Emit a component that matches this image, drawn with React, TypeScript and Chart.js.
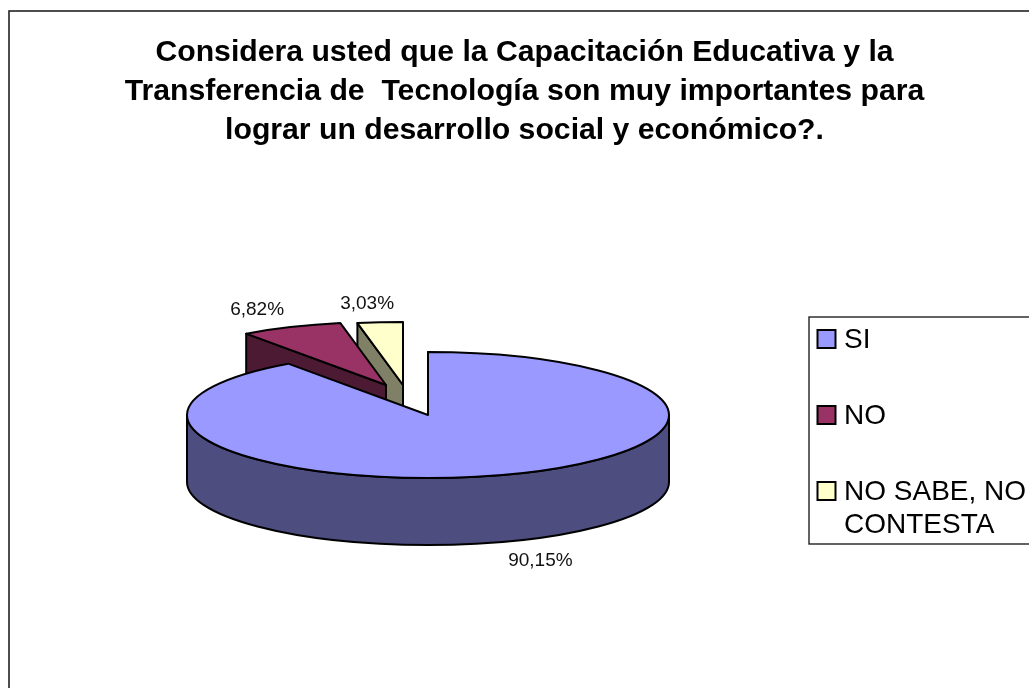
import React, { useEffect, useRef } from "react";
import { Chart, registerables } from "chart.js";

Chart.register(...registerables);

// Survey answers, in percent
const answerLabels = ["SI", "NO", "NO SABE, NO CONTESTA"];
const answerValues = [90.15, 6.82, 3.03];
const valueLabels = ["90,15%", "6,82%", "3,03%"];

const titleLines = [
  "Considera usted que la Capacitación Educativa y la",
  "Transferencia de  Tecnología son muy importantes para",
  "lograr un desarrollo social y económico?.",
];

const topColors = ["#9999FF", "#993366", "#FFFFCC"];
const wallColors = ["#4D4D80", "#4D1A33", "#808066"];

// Screen displacement of the exploded slices
const sliceShift = [[0, 0], [-42, -30], [-25, -30]];
// Distance of each value label from the outer middle of its slice
const labelNudge = [[39, 86], [-34, -17], [-13, -19]];

const TILT = 63 / 241;
const DEPTH = 67;
const LINE = 2;
const FONT = '"Liberation Sans", Arial, sans-serif';

const pie3d = {
  id: "pie3d",
  beforeDraw(chart: any) {
    const { ctx, width, height } = chart;
    ctx.save();
    ctx.fillStyle = "#fff";
    ctx.fillRect(0, 0, width, height);
    ctx.strokeStyle = "#222";
    ctx.lineWidth = 1.6;
    ctx.strokeRect(9, 11, width + 40, height + 40);
    ctx.restore();
  },
  afterLayout(chart: any) {
    // The heading is centred on the frame, not on the pie
    chart.titleBlock.left = 20;
    chart.titleBlock.right = chart.width;
  },
  beforeDatasetsDraw(chart: any) {
    const { ctx } = chart;
    const arcs = chart.getDatasetMeta(0).data;
    // Painted back to front so the large slice overlaps the exploded ones
    for (let i = arcs.length - 1; i >= 0; i--) {
      const arc = arcs[i];
      const { x, y, startAngle, endAngle, outerRadius: r } = arc;
      const cx = x + sliceShift[i][0];
      const cy = y + sliceShift[i][1];
      const ry = r * TILT;

      ctx.save();
      ctx.lineWidth = LINE;
      ctx.lineJoin = "round";
      ctx.strokeStyle = "#000";
      ctx.fillStyle = wallColors[i];

      // Wall under the leading radial edge
      const ex = cx + r * Math.cos(startAngle);
      const ey = cy + ry * Math.sin(startAngle);
      ctx.beginPath();
      ctx.moveTo(cx, cy);
      ctx.lineTo(ex, ey);
      ctx.lineTo(ex, ey + DEPTH);
      ctx.lineTo(cx, cy + DEPTH);
      ctx.closePath();
      ctx.fill();
      ctx.stroke();

      // Rim: only the part of the arc facing the viewer
      const a0 = Math.max(startAngle, 0);
      const a1 = Math.min(endAngle, Math.PI);
      if (a1 > a0) {
        ctx.beginPath();
        ctx.ellipse(cx, cy, r, ry, 0, a0, a1);
        ctx.ellipse(cx, cy + DEPTH, r, ry, 0, a1, a0, true);
        ctx.closePath();
        ctx.fill();
        ctx.stroke();
      }

      // Top face, drawn by the arc element itself on a squashed context
      ctx.save();
      ctx.translate(cx, cy);
      ctx.scale(1, TILT);
      ctx.translate(-x, -y);
      arc.draw(ctx);
      ctx.restore();

      ctx.beginPath();
      ctx.moveTo(cx, cy);
      ctx.ellipse(cx, cy, r, ry, 0, startAngle, endAngle);
      ctx.closePath();
      ctx.stroke();
      ctx.restore();
    }
    return false;
  },
  afterDraw(chart: any) {
    const { ctx, width } = chart;
    const arcs = chart.getDatasetMeta(0).data;

    // Value labels
    ctx.save();
    ctx.font = `19px ${FONT}`;
    ctx.fillStyle = "#111";
    ctx.textAlign = "center";
    ctx.textBaseline = "middle";
    arcs.forEach((arc: any, i: number) => {
      const mid = (arc.startAngle + arc.endAngle) / 2;
      const px = arc.x + sliceShift[i][0] + arc.outerRadius * Math.cos(mid);
      const py = arc.y + sliceShift[i][1] + arc.outerRadius * TILT * Math.sin(mid);
      ctx.fillText(valueLabels[i], px + labelNudge[i][0], py + labelNudge[i][1]);
    });
    ctx.restore();

    // Legend box, running past the right edge of the page
    const box = { left: 809, top: 317, bottom: 544 };
    ctx.save();
    ctx.strokeStyle = "#222";
    ctx.lineWidth = 1.4;
    ctx.strokeRect(box.left, box.top, width, box.bottom - box.top);

    const baselines = [348, 424, 500];
    ctx.font = `28px ${FONT}`;
    ctx.textBaseline = "alphabetic";
    ctx.textAlign = "left";
    chart.data.labels.forEach((label: string, i: number) => {
      ctx.fillStyle = topColors[i];
      ctx.strokeStyle = "#000";
      ctx.lineWidth = 2;
      ctx.fillRect(817.5, baselines[i] - 18, 18, 18);
      ctx.strokeRect(817.5, baselines[i] - 18, 18, 18);

      // Wrap long entries to the width of the box
      const rows: string[] = [];
      let row = "";
      for (const word of label.split(" ")) {
        const next = row ? `${row} ${word}` : word;
        if (ctx.measureText(next).width > 190 && row) {
          rows.push(row);
          row = word;
        } else {
          row = next;
        }
      }
      rows.push(row);
      ctx.fillStyle = "#000";
      rows.forEach((t, j) => ctx.fillText(t, 844, baselines[i] + j * 33));
    });
    ctx.restore();
  },
};

export default function App() {
  const ref = useRef<HTMLCanvasElement>(null);

  useEffect(() => {
    const chart = new Chart(ref.current!, {
      type: "pie",
      data: {
        labels: answerLabels,
        datasets: [
          {
            data: answerValues,
            backgroundColor: topColors,
            borderWidth: 0,
            hoverOffset: 0,
          },
        ],
      },
      options: {
        responsive: false,
        animation: false,
        events: [],
        layout: { padding: { left: 187, right: 360, top: 0, bottom: 32 } },
        plugins: {
          legend: { display: false },
          tooltip: { enabled: false },
          title: {
            display: true,
            text: titleLines,
            color: "#000",
            font: { family: FONT, size: 30.2, weight: "bold", lineHeight: 1.28 },
            padding: { top: 33.6, bottom: 24.4 },
          },
        },
      },
      plugins: [pie3d],
    } as any);
    return () => chart.destroy();
  }, []);

  return (
    <canvas
      ref={ref}
      width={1029}
      height={688}
      style={{ position: "fixed", left: 0, top: 0, display: "block" }}
    />
  );
}
